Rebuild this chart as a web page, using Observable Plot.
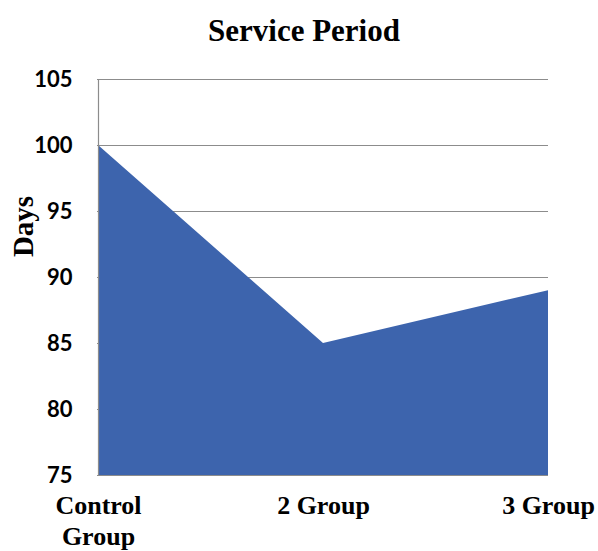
<!DOCTYPE html>
<html>
<head>
<meta charset="utf-8">
<script src="https://cdn.jsdelivr.net/npm/d3@7"></script>
<script src="https://cdn.jsdelivr.net/npm/@observablehq/plot@0.6"></script>
<style>
  body { margin: 0; background: #fff; }
  #wrap { position: relative; width: 598px; height: 551px; }
  #title { position: absolute; left: 0; width: 608px; top: 13px; text-align: center;
    font-family: "Liberation Serif", serif; font-weight: bold; font-size: 31px; color: #000; }
</style>
</head>
<body>
<div id="wrap"><div id="title">Service Period</div></div>
<script>
const categories = ["Control Group", "2 Group", "3 Group"];
const values = [100, 85, 89];
const yTicks = [75, 80, 85, 90, 95, 100, 105];
const data = categories.map((c, i) => ({group: c, days: values[i]}));

const chart = Plot.plot({
  width: 598,
  height: 551,
  marginLeft: 97,
  marginRight: 50,
  marginTop: 79,
  marginBottom: 76,
  style: {background: "white", overflow: "visible"},
  x: {type: "point", domain: categories, padding: 0, label: null},
  y: {domain: [75, 105], ticks: yTicks, label: null},
  marks: [
    Plot.gridY(yTicks, {stroke: "#8c8c8c", strokeOpacity: 1, strokeWidth: 1}),
    Plot.areaY(data, {x: "group", y1: 75, y2: "days", fill: "#3D64AD"}),
    Plot.ruleX([categories[0]], {stroke: "#8c8c8c", strokeWidth: 1.2}),
    Plot.axisY({ticks: yTicks, tickSize: 0, tickPadding: 25, fontSize: 22, fontWeight: "bold",
      fontFamily: "Lato, 'Liberation Sans', sans-serif", fill: "#000", label: null}),
    Plot.axisX({tickSize: 0, tickPadding: 16, fontSize: 26, fontWeight: "bold",
      fontFamily: "'Liberation Serif', serif", fill: "#000", label: null,
      tickFormat: d => d === "Control Group" ? "Control\nGroup" : d, lineHeight: 1.2}),
    Plot.text(["Days"], {frameAnchor: "left", dx: -74, dy: -51, rotate: -90, textAnchor: "middle",
      fontSize: 29, fontWeight: "bold", fontFamily: "'Liberation Serif', serif", fill: "#000"})
  ]
});
document.getElementById("wrap").prepend(chart);
</script>
</body>
</html>
